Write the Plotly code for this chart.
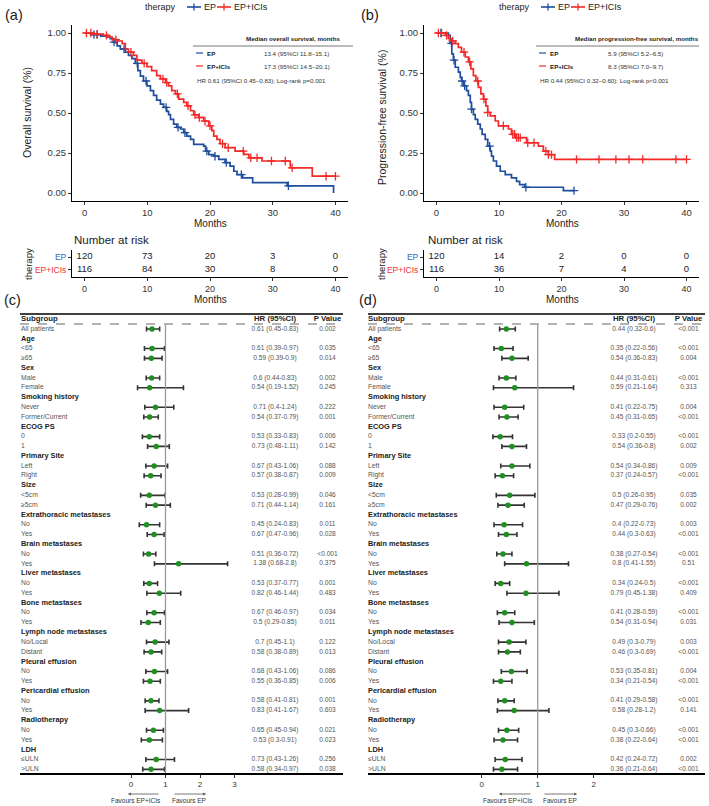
import numpy as np
import plotly.graph_objects as go

W, H = 709, 806
def px(x): return x / W
def py(y): return 1 - y / H

FONT = "Liberation Sans, Arial, sans-serif"
BLUE = "#1F4E9F"
RED = "#F42A2A"
GREEN = "#1F8F1F"

# ---------------- Kaplan-Meier data ----------------
os_ep_t = [0, 1.2, 2.6, 3.5, 4.1, 4.6, 5.2, 5.7, 6.5, 7.0, 7.55, 8.1, 8.5, 8.9, 9.4, 9.95, 10.5, 11.0, 11.5,
           12.1, 12.6, 13.1, 13.4, 13.7, 14.2, 14.7, 15.3, 15.8, 16.3, 16.9, 17.4, 19.0, 19.3, 19.8, 20.6,
           21.4, 22.4, 23.2, 23.8, 24.3, 25.2, 26.8, 32.3, 39.7]
os_ep_s = [1.0, 0.99, 0.98, 0.975, 0.965, 0.943, 0.92, 0.90, 0.88, 0.86, 0.84, 0.81, 0.765, 0.73, 0.70, 0.67,
           0.64, 0.61, 0.58, 0.555, 0.535, 0.51, 0.49, 0.46, 0.43, 0.41, 0.40, 0.377, 0.356, 0.335, 0.304,
           0.293, 0.262, 0.24, 0.23, 0.21, 0.19, 0.168, 0.136, 0.115, 0.095, 0.065, 0.045, 0.0]
os_ep_cens = [1.5, 2.0, 4.7, 6.3, 8.4, 9.8, 13.0, 14.9, 16.0, 19.5, 20.8, 22.6, 25.0, 32.5]

os_ici_t = [0, 1.2, 3.0, 3.8, 4.4, 5.2, 6.0, 6.5, 7.0, 7.8, 8.35, 9.15, 9.95, 10.7, 11.5, 12.1, 12.9, 13.4,
            13.9, 14.5, 15.0, 15.8, 16.3, 16.9, 17.4, 18.2, 19.0, 19.8, 20.3, 20.6, 21.1, 21.6, 22.4, 24.0,
            25.4, 26.2, 28.3, 32.8, 36.3, 40.0]
os_ici_s = [1.0, 0.993, 0.985, 0.975, 0.958, 0.95, 0.933, 0.90, 0.88, 0.86, 0.83, 0.81, 0.79, 0.765, 0.734,
            0.713, 0.69, 0.67, 0.64, 0.62, 0.587, 0.566, 0.545, 0.514, 0.488, 0.472, 0.45, 0.42, 0.39, 0.356,
            0.335, 0.308, 0.283, 0.262, 0.241, 0.22, 0.20, 0.157, 0.105, 0.105]
os_ici_cens = [0.3, 1.0, 2.0, 3.5, 5.0, 7.4, 9.5, 12.5, 13.1, 14.8, 16.5, 17.6, 18.3, 19.2, 20.0, 22.0, 22.9,
               25.3, 26.5, 27.5, 29.8, 32.0, 33.1, 38.5, 40.0]

pfs_ep_t = [0, 1.9, 2.2, 2.45, 2.7, 3.0, 3.5, 3.8, 4.0, 4.3, 4.8, 5.1, 5.4, 5.6, 5.9, 6.2, 6.6, 7.0, 7.3, 7.8,
            8.2, 8.6, 8.8, 9.1, 9.6, 10.2, 11.0, 12.0, 12.8, 13.3, 14.1, 20.3, 22.1]
pfs_ep_s = [1.0, 0.985, 0.935, 0.87, 0.83, 0.786, 0.755, 0.723, 0.70, 0.67, 0.64, 0.61, 0.566, 0.524, 0.49,
            0.46, 0.43, 0.40, 0.367, 0.335, 0.293, 0.262, 0.23, 0.20, 0.168, 0.136, 0.115, 0.094, 0.073,
            0.052, 0.036, 0.015, 0.015]
pfs_ep_cens = [0.7, 2.4, 2.8, 4.1, 4.5, 5.6, 8.5, 14.3, 22.0]

pfs_ici_t = [0, 1.4, 1.9, 2.45, 3.0, 3.5, 4.0, 4.6, 5.1, 5.5, 5.9, 6.3, 6.7, 7.1, 7.5, 7.9, 8.2, 8.6, 9.4,
             9.9, 11.5, 12.0, 12.6, 14.4, 16.3, 17.1, 17.9, 18.9, 40.0]
pfs_ici_s = [1.0, 0.985, 0.964, 0.95, 0.933, 0.91, 0.88, 0.85, 0.82, 0.776, 0.734, 0.70, 0.66, 0.62, 0.587,
             0.545, 0.503, 0.482, 0.45, 0.42, 0.40, 0.367, 0.346, 0.314, 0.293, 0.262, 0.24, 0.21, 0.21]
pfs_ici_cens = [0.3, 0.8, 1.6, 2.6, 4.4, 5.3, 6.6, 7.6, 8.2, 10.7, 12.2, 12.5, 12.8, 13.1, 13.4, 14.6, 15.6,
                17.5, 17.9, 18.4, 22.4, 26.0, 28.7, 30.8, 33.0, 38.3, 40.0]

# ---------------- Number at risk ----------------
risk_times = [0, 10, 20, 30, 40]
os_risk_ep = [120, 73, 20, 3, 0]
os_risk_ici = [116, 84, 30, 8, 0]
pfs_risk_ep = [120, 14, 2, 0, 0]
pfs_risk_ici = [116, 36, 7, 4, 0]

# ---------------- Forest data ----------------
subgroups = ["All patients", "Age", "<65", "≥65", "Sex", "Male", "Female", "Smoking history", "Never",
             "Former/Current", "ECOG PS", "0", "1", "Primary Site", "Left", "Right", "Size", "<5cm", "≥5cm",
             "Extrathoracic metastases", "No", "Yes", "Brain metastases", "No", "Yes", "Liver metastases",
             "No", "Yes", "Bone metastases", "No", "Yes", "Lymph node metastases", "No/Local", "Distant",
             "Pleural effusion", "No", "Yes", "Pericardial effusion", "No", "Yes", "Radiotherapy", "No",
             "Yes", "LDH", "≤ULN", ">ULN"]

os_hr = [0.61, None, 0.61, 0.59, None, 0.6, 0.54, None, 0.71, 0.54, None, 0.53, 0.73, None, 0.67, 0.57, None,
         0.53, 0.71, None, 0.45, 0.67, None, 0.51, 1.38, None, 0.53, 0.82, None, 0.67, 0.5, None, 0.7, 0.58,
         None, 0.68, 0.55, None, 0.58, 0.83, None, 0.65, 0.53, None, 0.73, 0.58]
os_lo = [0.45, None, 0.39, 0.39, None, 0.44, 0.19, None, 0.4, 0.37, None, 0.33, 0.48, None, 0.43, 0.38, None,
         0.28, 0.44, None, 0.24, 0.47, None, 0.36, 0.68, None, 0.37, 0.46, None, 0.46, 0.29, None, 0.45, 0.38,
         None, 0.43, 0.36, None, 0.41, 0.41, None, 0.45, 0.3, None, 0.43, 0.34]
os_hi = [0.83, None, 0.97, 0.9, None, 0.83, 1.52, None, 1.24, 0.79, None, 0.83, 1.11, None, 1.06, 0.87, None,
         0.99, 1.14, None, 0.83, 0.96, None, 0.72, 2.8, None, 0.77, 1.44, None, 0.97, 0.85, None, 1.1, 0.89,
         None, 1.06, 0.85, None, 0.81, 1.67, None, 0.94, 0.91, None, 1.26, 0.97]
os_p = ["0.002", None, "0.035", "0.014", None, "0.002", "0.245", None, "0.222", "0.001", None, "0.006", "0.142",
        None, "0.088", "0.009", None, "0.046", "0.161", None, "0.011", "0.028", None, "<0.001", "0.375", None,
        "0.001", "0.483", None, "0.034", "0.011", None, "0.122", "0.013", None, "0.086", "0.006", None, "0.001",
        "0.603", None, "0.021", "0.023", None, "0.256", "0.038"]

pfs_hr = [0.44, None, 0.35, 0.54, None, 0.44, 0.59, None, 0.41, 0.45, None, 0.33, 0.54, None, 0.54, 0.37, None,
          0.5, 0.47, None, 0.4, 0.44, None, 0.38, 0.8, None, 0.34, 0.79, None, 0.41, 0.54, None, 0.49, 0.46,
          None, 0.53, 0.34, None, 0.41, 0.58, None, 0.45, 0.38, None, 0.42, 0.36]
pfs_lo = [0.32, None, 0.22, 0.36, None, 0.31, 0.21, None, 0.22, 0.31, None, 0.2, 0.36, None, 0.34, 0.24, None,
          0.26, 0.29, None, 0.22, 0.3, None, 0.27, 0.41, None, 0.24, 0.45, None, 0.28, 0.31, None, 0.3, 0.3,
          None, 0.35, 0.21, None, 0.29, 0.28, None, 0.3, 0.22, None, 0.24, 0.21]
pfs_hi = [0.6, None, 0.56, 0.83, None, 0.61, 1.64, None, 0.75, 0.65, None, 0.55, 0.8, None, 0.86, 0.57, None,
          0.95, 0.76, None, 0.73, 0.63, None, 0.54, 1.55, None, 0.5, 1.38, None, 0.59, 0.94, None, 0.79, 0.69,
          None, 0.81, 0.54, None, 0.58, 1.2, None, 0.66, 0.64, None, 0.72, 0.64]
pfs_p = ["<0.001", None, "<0.001", "0.004", None, "<0.001", "0.313", None, "0.004", "<0.001", None, "<0.001",
         "0.002", None, "0.009", "<0.001", None, "0.035", "0.002", None, "0.003", "<0.001", None, "<0.001",
         "0.51", None, "<0.001", "0.409", None, "<0.001", "0.031", None, "0.003", "<0.001", None, "0.004",
         "<0.001", None, "<0.001", "0.141", None, "<0.001", "<0.001", None, "0.002", "<0.001"]

def esc(s):
    return s.replace("<", "&lt;").replace(">", "&gt;")

def step_at(t_arr, s_arr, times):
    t = np.array(t_arr, dtype=float); s = np.array(s_arr, dtype=float)
    idx = np.searchsorted(t, np.array(times, dtype=float), side="right") - 1
    return s[np.clip(idx, 0, None)]

fig = go.Figure()

def add_km(xa, ya, t, s, cens, color):
    fig.add_trace(go.Scatter(x=t, y=s, mode="lines", line=dict(color=color, width=1.7, shape="hv"),
                             xaxis=xa, yaxis=ya, hoverinfo="skip", showlegend=False))
    fig.add_trace(go.Scatter(x=cens, y=step_at(t, s, cens), mode="markers",
                             marker=dict(symbol="cross-thin", size=6, color=color, line=dict(color=color, width=1.3)),
                             xaxis=xa, yaxis=ya, hoverinfo="skip", showlegend=False))

add_km("x", "y", os_ep_t, os_ep_s, os_ep_cens, BLUE)
add_km("x", "y", os_ici_t, os_ici_s, os_ici_cens, RED)
add_km("x2", "y2", pfs_ep_t, pfs_ep_s, pfs_ep_cens, BLUE)
add_km("x2", "y2", pfs_ici_t, pfs_ici_s, pfs_ici_cens, RED)

# risk tables
for xa, ya, ep, ici in [("x3", "y3", os_risk_ep, os_risk_ici), ("x4", "y4", pfs_risk_ep, pfs_risk_ici)]:
    fig.add_trace(go.Scatter(x=risk_times, y=[1] * len(risk_times), text=[str(v) for v in ep], mode="text",
                             textfont=dict(size=9.5, color="#222", family=FONT), xaxis=xa, yaxis=ya,
                             hoverinfo="skip", showlegend=False))
    fig.add_trace(go.Scatter(x=risk_times, y=[0] * len(risk_times), text=[str(v) for v in ici], mode="text",
                             textfont=dict(size=9.5, color="#222", family=FONT), xaxis=xa, yaxis=ya,
                             hoverinfo="skip", showlegend=False))

# forest plots
rows = list(range(len(subgroups)))
def add_forest(xa, ya, hr, lo, hi, pv, xlab, xhr, xp):
    idx = [i for i in rows if hr[i] is not None]
    hdr = [i for i in rows if hr[i] is None]
    fig.add_trace(go.Scatter(
        x=[hr[i] for i in idx], y=idx, mode="markers",
        marker=dict(color=GREEN, size=5.5),
        error_x=dict(type="data", symmetric=False,
                     array=[hi[i] - hr[i] for i in idx], arrayminus=[hr[i] - lo[i] for i in idx],
                     color="#333", thickness=1.6, width=2.5),
        xaxis=xa, yaxis=ya, hoverinfo="skip", showlegend=False))
    fig.add_trace(go.Scatter(x=[xlab] * len(idx), y=idx, text=[esc(subgroups[i]) for i in idx], mode="text",
                             textposition="middle right", textfont=dict(size=6.8, color="#555", family=FONT),
                             xaxis=xa, yaxis=ya, hoverinfo="skip", showlegend=False, cliponaxis=False))
    fig.add_trace(go.Scatter(x=[xlab] * len(hdr), y=hdr, text=["<b>" + esc(subgroups[i]) + "</b>" for i in hdr],
                             mode="text", textposition="middle right",
                             textfont=dict(size=7.4, color="#222", family=FONT),
                             xaxis=xa, yaxis=ya, hoverinfo="skip", showlegend=False, cliponaxis=False))
    fig.add_trace(go.Scatter(x=[xhr] * len(idx), y=idx,
                             text=[f"{hr[i]:g} ({lo[i]:g}-{hi[i]:g})" for i in idx], mode="text",
                             textposition="middle center", textfont=dict(size=6.6, color="#555", family=FONT),
                             xaxis=xa, yaxis=ya, hoverinfo="skip", showlegend=False, cliponaxis=False))
    fig.add_trace(go.Scatter(x=[xp] * len(idx), y=idx, text=[esc(pv[i]) for i in idx], mode="text",
                             textposition="middle center", textfont=dict(size=6.6, color="#555", family=FONT),
                             xaxis=xa, yaxis=ya, hoverinfo="skip", showlegend=False, cliponaxis=False))
    fig.add_trace(go.Scatter(x=[xlab, xhr, xp], y=[-1, -1, -1],
                             text=["<b>Subgroup</b>", "<b>HR (95%CI)</b>", "<b>P Value</b>"], mode="text",
                             textposition=["middle right", "middle center", "middle center"],
                             textfont=dict(size=7.8, color="#222", family=FONT),
                             xaxis=xa, yaxis=ya, hoverinfo="skip", showlegend=False, cliponaxis=False))

# (c): 0 -> 131px, 34.5 px/unit ; (d): 0 -> 481.7px, 56 px/unit
def cx(p): return (p - 131) / 34.5
def dx(p): return (p - 481.7) / 56.0
add_forest("x5", "y5", os_hr, os_lo, os_hi, os_p, cx(21), cx(275), cx(327.5))
add_forest("x6", "y6", pfs_hr, pfs_lo, pfs_hi, pfs_p, dx(368), dx(634), dx(688.5))

def yrow(p): return (p - 329) / 9.785

base_ax = dict(showgrid=False, zeroline=False, showline=True, linecolor="black", linewidth=1,
               ticks="outside", ticklen=3, tickcolor="#333", tickfont=dict(size=9.5, color="#333", family=FONT))

km_y = [py(201), py(25)]
risk_y = [py(277), py(250)]
risk_labels = ["<span style='color:#3464C0'>EP</span>", "<span style='color:#F03030'>EP+ICIs</span>"]
layout = dict(
    width=W, height=H, margin=dict(l=0, r=0, t=0, b=0), autosize=False,
    paper_bgcolor="white", plot_bgcolor="white", showlegend=False,
    font=dict(family=FONT, color="#222"),
    xaxis=dict(base_ax, domain=[px(72), px(348)], range=[-2, 42], tickvals=[0, 10, 20, 30, 40], anchor="y"),
    yaxis=dict(base_ax, domain=km_y, range=[-0.05, 1.05], tickvals=[0, 0.25, 0.5, 0.75, 1],
               tickformat=".2f", anchor="x"),
    xaxis2=dict(base_ax, domain=[px(424), px(699)], range=[-2, 42], tickvals=[0, 10, 20, 30, 40], anchor="y2"),
    yaxis2=dict(base_ax, domain=km_y, range=[-0.05, 1.05], tickvals=[0, 0.25, 0.5, 0.75, 1],
                tickformat=".2f", anchor="x2"),
    xaxis3=dict(base_ax, domain=[px(72), px(348)], range=[-2, 42], tickvals=[0, 10, 20, 30, 40], anchor="y3",
                tickfont=dict(size=9, color="#333", family=FONT)),
    yaxis3=dict(base_ax, domain=risk_y, range=[-0.55, 1.55], tickvals=[1, 0], ticktext=risk_labels,
                tickfont=dict(size=8.5, family=FONT), anchor="x3"),
    xaxis4=dict(base_ax, domain=[px(424), px(699)], range=[-2, 42], tickvals=[0, 10, 20, 30, 40], anchor="y4",
                tickfont=dict(size=9, color="#333", family=FONT)),
    yaxis4=dict(base_ax, domain=risk_y, range=[-0.55, 1.55], tickvals=[1, 0], ticktext=risk_labels,
                tickfont=dict(size=8.5, family=FONT), anchor="x4"),
    xaxis5=dict(base_ax, domain=[px(20), px(343)], range=[cx(20), cx(343)], tickvals=[0, 1, 2, 3],
                linewidth=1.5, tickfont=dict(size=8, color="#333", family=FONT), anchor="y5"),
    yaxis5=dict(domain=[py(773), py(314)], range=[yrow(773), yrow(314)], visible=False, anchor="x5"),
    xaxis6=dict(base_ax, domain=[px(368), px(705)], range=[dx(368), dx(705)], tickvals=[0, 1, 2],
                linewidth=1.5, tickfont=dict(size=8, color="#333", family=FONT), anchor="y6"),
    yaxis6=dict(domain=[py(773), py(314)], range=[yrow(773), yrow(314)], visible=False, anchor="x6"),
)
fig.update_layout(**layout)

shapes = []
annots = []
def pline(x0, y0, x1, y1, color, width, dash="solid"):
    shapes.append(dict(type="line", xref="paper", yref="paper", x0=px(x0), y0=py(y0), x1=px(x1), y1=py(y1),
                       line=dict(color=color, width=width, dash=dash)))
def ptext(x, y, text, size, color="#222", xanchor="left", angle=0):
    annots.append(dict(x=px(x), y=py(y), xref="paper", yref="paper", text=text, showarrow=False,
                       xanchor=xanchor, yanchor="middle", textangle=angle,
                       font=dict(size=size, color=color, family=FONT)))

# panel labels
ptext(3, 15, "(a)", 14.5)
ptext(359, 15, "(b)", 14.5)
ptext(2, 300, "(c)", 14.5)
ptext(357, 300, "(d)", 14.5)

# legends at top
for off in [0, 354]:
    ptext(143 + off, 7, "therapy", 9)
    pline(187 + off, 7, 201 + off, 7, BLUE, 1.6)
    pline(194 + off, 3.5, 194 + off, 10.5, BLUE, 1.3)
    ptext(202 + off, 7, "EP", 9)
    pline(217 + off, 7, 231 + off, 7, RED, 1.6)
    pline(224 + off, 3.5, 224 + off, 10.5, RED, 1.3)
    ptext(232 + off, 7, "EP+ICIs", 9)

# y titles and x titles
ptext(27, 113, "Overall survival (%)", 10.5, xanchor="center", angle=-90)
ptext(382, 118, "Progression-free survival (%)", 10.5, xanchor="center", angle=-90)
for cxp in [210, 562]:
    ptext(cxp, 223, "Months", 10, xanchor="center")
    ptext(cxp, 300, "Months", 10, xanchor="center")
ptext(72, 240, "Number at risk", 11.5)
ptext(426, 240, "Number at risk", 11.5)
ptext(28, 264, "therapy", 9.5, xanchor="center", angle=-90)
ptext(381, 264, "therapy", 9.5, xanchor="center", angle=-90)

# inset tables
def inset(x_left, hdr_cx, line_x0, line_x1, val_x, header, v1, v2, hrtxt):
    ptext(hdr_cx, 39, "<b>" + header + "</b>", 6.2, xanchor="center")
    pline(line_x0, 46, line_x1, 46, "#555", 0.8)
    pline(x_left + 1, 53, x_left + 8, 53, BLUE, 1.2)
    ptext(x_left + 10, 53, "<b>EP</b>", 6.2)
    ptext(val_x, 53, v1, 6.2, color="#333")
    pline(x_left + 1, 66, x_left + 8, 66, RED, 1.2)
    ptext(x_left + 10, 66, "<b>EP+ICIs</b>", 6.2)
    ptext(val_x, 66, v2, 6.2, color="#333")
    ptext(x_left, 80, hrtxt, 6.2, color="#333")

inset(195, 293, 193, 353, 262, "Median overall survival, months",
      "13.4 (95%CI 11.8–15.1)", "17.3 (95%CI 14.5–20.1)", "HR 0.61 (95%CI 0.45–0.83); Log-rank p=0.001")
inset(538, 637, 536, 699, 606, "Median progression-free survival, months",
      "5.9 (95%CI 5.2–6.5)", "8.3 (95%CI 7.0–9.7)", "HR 0.44 (95%CI 0.32–0.60); Log-rank p&lt;0.001")

# forest frame lines
for x0, x1, xa, ya in [(20, 343, "x5", "y5"), (368, 705, "x6", "y6")]:
    pline(x0, 314, x1, 314, "black", 1.5)
    pline(x0, 324, x1, 324, "#666", 1, dash="dash")
    shapes.append(dict(type="line", xref=xa, yref=ya, x0=1, x1=1, y0=yrow(325), y1=yrow(773),
                       line=dict(color="#999", width=1.3)))

# favours arrows
def arrow(head_x, tail_x, y):
    annots.append(dict(x=px(head_x), y=py(y), xref="paper", yref="paper", ax=tail_x - head_x, ay=0,
                       axref="pixel", ayref="pixel", text="", showarrow=True, arrowhead=2, arrowsize=0.7,
                       arrowwidth=0.8, arrowcolor="#555"))
arrow(128, 160, 794); arrow(206, 173, 794)
ptext(135.5, 800, "Favours EP+ICIs", 6.5, color="#333", xanchor="center")
ptext(189.5, 800, "Favours EP", 6.5, color="#333", xanchor="center")
arrow(499, 532, 794); arrow(577, 543, 794)
ptext(507.5, 800, "Favours EP+ICIs", 6.5, color="#333", xanchor="center")
ptext(560, 800, "Favours EP", 6.5, color="#333", xanchor="center")

fig.update_layout(shapes=shapes, annotations=annots)
fig.write_html("out.html", config={"displayModeBar": False},
               post_script="document.body.style.margin='0px';document.body.style.overflow='hidden';")
